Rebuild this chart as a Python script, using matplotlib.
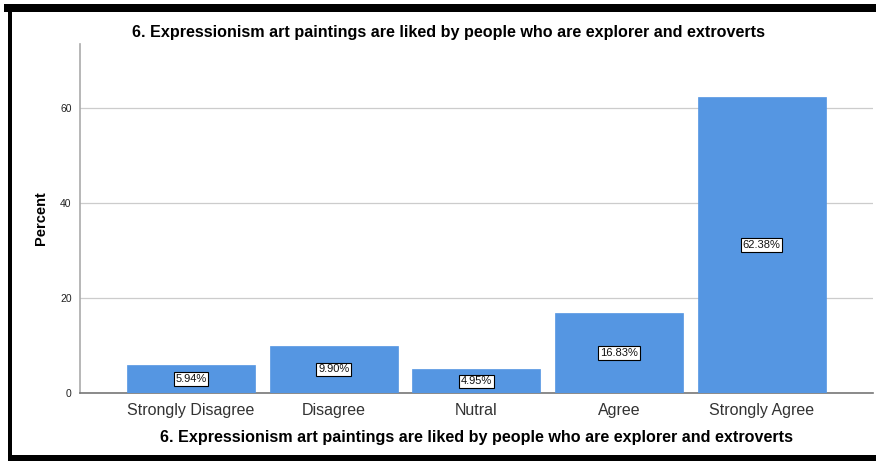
import matplotlib
matplotlib.use("Agg")
import matplotlib.pyplot as plt
from matplotlib.patches import Rectangle

categories = ["Strongly Disagree", "Disagree", "Nutral", "Agree", "Strongly Agree"]
percents = [5.94, 9.90, 4.95, 16.83, 62.38]
labels = ["5.94%", "9.90%", "4.95%", "16.83%", "62.38%"]
yticks = [0, 20, 40, 60]
title = "6. Expressionism art paintings are liked by people who are explorer and extroverts"

plt.rcParams['font.family'] = ['Liberation Sans', 'DejaVu Sans']
W, H = 876, 461
fig = plt.figure(figsize=(W/100, H/100), dpi=100)

def px(x0, y0, x1, y1):
    return (x0/W, 1 - y1/H, (x1-x0)/W, (y1-y0)/H)

# black frame
for (x0, y0, x1, y1) in [(4, 4, 876, 12), (8, 12, 12, 461), (8, 455, 876, 461)]:
    l, b, w, h = px(x0, y0, x1, y1)
    fig.patches.append(Rectangle((l, b), w, h, transform=fig.transFigure,
                                 facecolor='black', edgecolor='none'))

l, b, w, h = px(80, 44, 873, 393)
ax = fig.add_axes([l, b, w, h])
xs = list(range(len(categories)))
ax.bar(xs, percents, width=0.897, color='#5596E2', edgecolor='#5596E2', linewidth=0.5, zorder=3)
for x, v, t in zip(xs, percents, labels):
    ax.text(x, v/2, t, ha='center', va='center', fontsize=8, color='#111111', zorder=4,
            bbox=dict(boxstyle='square,pad=0.15', facecolor='white', edgecolor='black', linewidth=0.8))

ax.set_xlim(-0.778, 4.78)
ax.set_ylim(0, 73.5)
ax.set_yticks(yticks)
ax.set_yticklabels([str(t) for t in yticks], fontsize=7.5, color='#222222')
ax.set_xticks(xs)
ax.set_xticklabels(categories, fontsize=11.5, color='#333333')
ax.tick_params(axis='both', length=0, pad=6)
ax.tick_params(axis='x', pad=7)
ax.grid(axis='y', color='#cccccc', linewidth=0.9, zorder=0)
ax.set_axisbelow(True)
for s in ['top', 'right']:
    ax.spines[s].set_visible(False)
ax.spines['left'].set_color('#aaaaaa')
ax.spines['left'].set_linewidth(1.2)
ax.spines['bottom'].set_color('#777777')
ax.spines['bottom'].set_linewidth(1.2)

ax.set_ylabel("Percent", fontsize=10.5, fontweight='bold', labelpad=9)
ax.set_xlabel(title, fontsize=11.6, fontweight='bold', labelpad=9)
fig.text(448/W, 1 - 32/H, title, ha='center', va='center', fontsize=11.6, fontweight='bold')

fig.savefig("out.png", dpi=100)
